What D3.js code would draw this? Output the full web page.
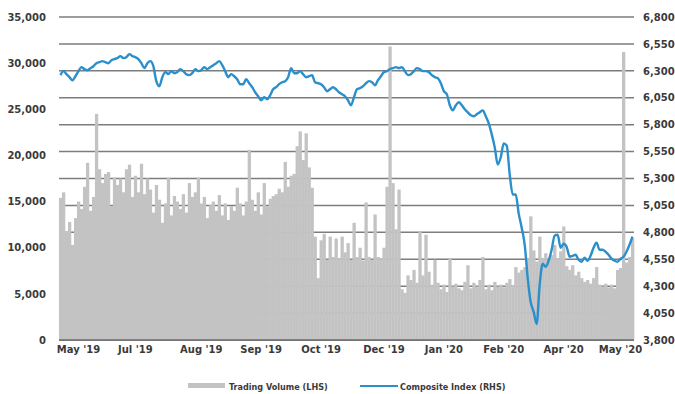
<!DOCTYPE html>
<html><head><meta charset="utf-8">
<script src="https://cdn.jsdelivr.net/npm/d3@7/dist/d3.min.js"></script>
<style>html,body{margin:0;padding:0;background:#fff;overflow:hidden}</style>
</head><body><svg id="c" width="675" height="394"></svg>
<script>
// Daily trading volume (LHS), May '19 – May '20
const volume = [
15400,16000,11800,12800,10300,13200,15000,14200,16600,19200,
14000,15500,24500,18500,17000,18000,18200,14500,17600,16800,
17500,16000,18500,19000,15500,17800,16000,19100,15800,17500,
16300,13800,16800,15200,12700,14800,17600,13500,15600,15000,
14200,15800,13800,17000,15500,16000,17600,14800,15500,13200,
14600,15000,14000,15700,13500,14800,13000,14500,14000,16500,
14800,13500,15000,20600,15200,14000,16000,13600,17000,14500,
15300,15600,15800,16400,16000,19300,16600,17800,18000,21000,
22600,19500,22400,18700,16500,11200,6700,10800,11500,8700,
11200,9000,11000,8800,11200,9500,10500,8700,12700,9000,
10000,8600,14900,9000,8700,13600,9000,8800,10000,16600,
31800,17000,12000,16300,5500,5100,7000,6500,7600,6200,
11700,7000,11400,7400,6000,8700,6200,5500,6000,5200,
8800,5800,6100,5600,5400,6300,8100,5600,6200,5800,
6500,9000,5500,6000,5400,6300,5800,6000,5700,6200,
6600,5900,7900,7300,7600,7900,8800,13400,9700,8500,
11200,8900,9400,8700,9200,10300,8800,9600,12300,8000,
7600,8100,7000,7400,6700,6300,6500,6100,6700,7900,
6000,5800,6100,5700,6000,5600,7600,7800,31200,8400,
9000,11000
];
// Composite Index (RHS)
const compositeIndex = [
6260,6297,6269,6241,6213,6250,6297,6334,6316,6306,
6325,6343,6371,6381,6390,6381,6371,6399,6409,6418,
6437,6418,6427,6455,6437,6427,6409,6371,6325,6371,
6390,6343,6204,6157,6241,6288,6269,6297,6278,6288,
6316,6297,6269,6260,6278,6316,6297,6306,6334,6316,
6334,6353,6371,6390,6353,6297,6241,6269,6250,6222,
6176,6176,6222,6185,6148,6101,6064,6027,6055,6036,
6073,6129,6148,6176,6194,6204,6241,6325,6278,6278,
6297,6269,6241,6250,6260,6194,6185,6176,6148,6111,
6129,6148,6129,6101,6083,6064,6027,5980,6055,6129,
6139,6157,6185,6204,6194,6166,6213,6250,6288,6297,
6316,6325,6334,6325,6334,6297,6260,6269,6297,6325,
6316,6297,6297,6288,6260,6241,6232,6185,6111,6083,
5980,5933,5980,6008,5980,5943,5915,5887,5878,5896,
5915,5933,5878,5812,5710,5589,5430,5495,5626,5607,
5337,5151,5151,4974,4843,4685,4378,4154,4061,3949,
4312,4508,4480,4536,4638,4769,4778,4657,4694,4666,
4573,4582,4592,4545,4527,4564,4536,4582,4657,4704,
4638,4638,4620,4592,4555,4536,4527,4555,4573,4620,
4685,4760
];
const monthTickDays = [6, 25, 47, 67, 87, 108, 128, 148, 168, 187];
const monthTickLabels = ["May '19","Jul '19","Aug '19","Sep '19","Oct '19","Dec '19","Jan '20","Feb '20","Apr '20","May '20"];
const leftTicks = [0,5000,10000,15000,20000,25000,30000,35000];
const rightTicks = [3800,4050,4300,4550,4800,5050,5300,5550,5800,6050,6300,6550,6800];
const legendLabels = ["Trading Volume (LHS)", "Composite Index (RHS)"];

const svg = d3.select("#c");
const L = 59, R = 634, T = 17, B = 340;
const days = d3.range(volume.length);
const x = d3.scaleBand().domain(days).range([L, R]).padding(0);
const yL = d3.scaleLinear().domain([0, 35000]).range([B, T]);
const yR = d3.scaleLinear().domain([3800, 6800]).range([B, T]);
const textColor = "#3a3a3a";
const fontMain = "'DejaVu Sans', sans-serif";

// gridlines (behind bars)
svg.append("g").selectAll("line").data(rightTicks).join("line")
  .attr("x1", L).attr("x2", R)
  .attr("y1", d => yR(d)).attr("y2", d => yR(d))
  .attr("stroke", "#7d7d7d").attr("stroke-width", 1.5);

// volume bars
svg.append("g").selectAll("rect").data(days).join("rect")
  .attr("x", d => x(d)).attr("width", x.bandwidth() + 0.3)
  .attr("y", d => yL(volume[d])).attr("height", d => B - yL(volume[d]))
  .attr("fill", "#c3c3c3");

// baseline
svg.append("line").attr("x1", L).attr("x2", R).attr("y1", B).attr("y2", B)
  .attr("stroke", "#6a6a6a").attr("stroke-width", 1.5);

// index line
const line = d3.line()
  .x(d => x(d) + x.bandwidth() / 2)
  .y(d => yR(compositeIndex[d]))
  .curve(d3.curveMonotoneX);
svg.append("path").datum(days).attr("d", line)
  .attr("fill", "none").attr("stroke", "#2a8fca").attr("stroke-width", 2.4)
  .attr("stroke-linejoin", "round");

// axes
function styleAxis(g) {
  g.select(".domain").remove();
  g.selectAll(".tick line").remove();
  g.selectAll("text").attr("fill", textColor)
    .attr("font-family", fontMain).attr("font-weight", "bold").attr("font-size", 10);
}
svg.append("g").attr("transform", `translate(${L},0)`)
  .call(d3.axisLeft(yL).tickValues(leftTicks).tickSize(0).tickPadding(13).tickFormat(d3.format(",")))
  .call(styleAxis);
svg.append("g").attr("transform", `translate(${R},0)`)
  .call(d3.axisRight(yR).tickValues(rightTicks).tickSize(0).tickPadding(9).tickFormat(d3.format(",")))
  .call(styleAxis);
svg.append("g").attr("transform", `translate(0,${B})`)
  .call(d3.axisBottom(x).tickValues(monthTickDays).tickSize(0).tickPadding(6)
    .tickFormat(d => monthTickLabels[monthTickDays.indexOf(d)]))
  .call(styleAxis);

// legend
const lg = svg.append("g");
const legFont = "'DejaVu Sans Condensed', 'DejaVu Sans', sans-serif";
lg.append("rect").attr("x", 188).attr("y", 383).attr("width", 37).attr("height", 5).attr("fill", "#c3c3c3");
lg.append("text").attr("x", 229).attr("y", 390).text(legendLabels[0])
  .attr("fill", textColor).attr("font-family", legFont)
  .attr("font-weight", "bold").attr("font-size", 9);
lg.append("line").attr("x1", 360).attr("x2", 398).attr("y1", 386).attr("y2", 386)
  .attr("stroke", "#2a8fca").attr("stroke-width", 2);
lg.append("text").attr("x", 400).attr("y", 390).text(legendLabels[1])
  .attr("fill", textColor).attr("font-family", legFont)
  .attr("font-weight", "bold").attr("font-size", 9);
</script></body></html>
